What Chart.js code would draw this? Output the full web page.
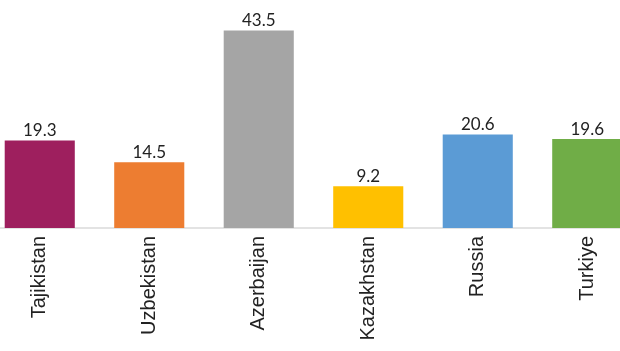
<!DOCTYPE html>
<html>
<head>
<meta charset="utf-8">
<script src="https://cdn.jsdelivr.net/npm/chart.js@4"></script>
<style>
  html, body { margin: 0; padding: 0; background: #fff; overflow: hidden; }
  #wrap { position: relative; width: 620px; height: 351px; overflow: hidden; }
  #c { position: absolute; left: -15px; top: 0; }
</style>
</head>
<body>
<div id="wrap"><canvas id="c" width="657" height="351"></canvas></div>
<script>
const countries = ["Tajikistan", "Uzbekistan", "Azerbaijan", "Kazakhstan", "Russia", "Turkiye"];
const values = [19.3, 14.5, 43.5, 9.2, 20.6, 19.6];
const barColors = ["#9e1f5e", "#ed7d31", "#a5a5a5", "#ffc000", "#5b9bd5", "#70ad47"];

// Writes each bar's value just above its top edge
const valueLabels = {
  id: "valueLabels",
  afterDatasetsDraw(chart) {
    const ctx = chart.ctx;
    const meta = chart.getDatasetMeta(0);
    ctx.save();
    ctx.font = "17px Lato, 'Liberation Sans', sans-serif";
    ctx.fillStyle = "#222";
    ctx.textAlign = "center";
    ctx.textBaseline = "bottom";
    meta.data.forEach((bar, i) => {
      ctx.fillText(values[i].toFixed(1), bar.x, bar.y - 1);
    });
    ctx.restore();
  }
};

new Chart(document.getElementById("c"), {
  type: "bar",
  data: {
    labels: countries,
    datasets: [{
      data: values,
      backgroundColor: barColors,
      borderWidth: 0,
      categoryPercentage: 1.0,
      barPercentage: 0.64
    }]
  },
  options: {
    responsive: false,
    animation: false,
    layout: { padding: { top: 1, left: 0, right: 0, bottom: 0 } },
    plugins: { legend: { display: false }, tooltip: { enabled: false } },
    scales: {
      y: {
        display: false,
        min: 0,
        max: 50
      },
      x: {
        grid: { display: false, drawTicks: false },
        border: { display: true, color: "#e3e3e3", width: 2 },
        ticks: {
          color: "#222",
          font: { family: "'Liberation Sans', Arial, sans-serif", size: 20 },
          minRotation: 90,
          maxRotation: 90,
          padding: 8,
          autoSkip: false
        },
        afterFit(scale) { scale.height = 123; }
      }
    }
  },
  plugins: [valueLabels]
});
</script>
</body>
</html>
